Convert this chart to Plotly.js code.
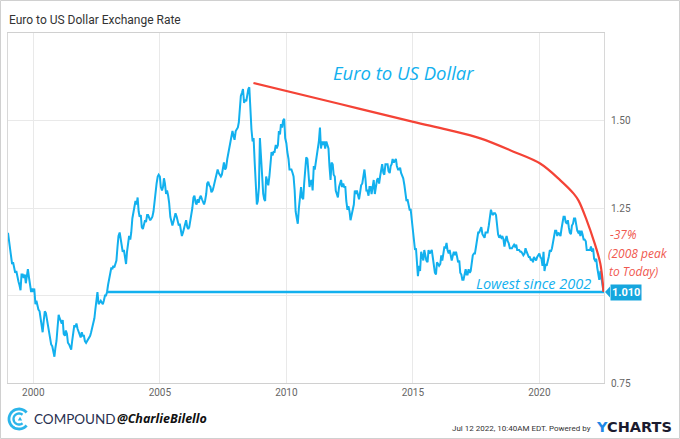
<!DOCTYPE html>
<html>
<head>
<meta charset="utf-8">
<script src="https://cdn.plot.ly/plotly-3.0.1.min.js"></script>
<style>
html,body{margin:0;padding:0;background:#fff;}
#chart{width:680px;height:439px;}
</style>
</head>
<body>
<div id="chart"></div>
<script>
// ---- DATA (semi-monthly EUR/USD readings, 1st & 15th of each month) ----
const startYear = 1999;
const eurusd = [
  // 1999
  1.179,1.160, 1.135,1.110, 1.090,1.095, 1.080,1.065, 1.070,1.050, 1.040,1.030, 1.015,1.060, 1.060,1.050, 1.060,1.035, 1.060,1.075, 1.050,1.035, 1.010,1.020,
  // 2000
  1.010,1.020, 0.975,0.985, 0.965,0.960, 0.955,0.930, 0.905,0.895, 0.930,0.955, 0.950,0.935, 0.920,0.905, 0.880,0.860, 0.855,0.845, 0.825,0.850, 0.870,0.905,
  // 2001
  0.945,0.935, 0.925,0.920, 0.930,0.890, 0.885,0.900, 0.890,0.865, 0.860,0.850, 0.845,0.870, 0.890,0.915, 0.910,0.920, 0.905,0.895, 0.890,0.880, 0.895,0.885,
  // 2002
  0.885,0.870, 0.865,0.870, 0.875,0.880, 0.885,0.895, 0.910,0.920, 0.935,0.960, 0.995,1.010, 0.975,0.980, 0.985,0.980, 0.975,0.985, 1.000,1.000, 1.010,1.030,
  // 2003
  1.050,1.065, 1.080,1.075, 1.085,1.080, 1.090,1.100, 1.140,1.170, 1.180,1.160, 1.140,1.125, 1.130,1.110, 1.090,1.125, 1.160,1.170, 1.160,1.180, 1.220,1.240,
  // 2004
  1.260,1.270, 1.260,1.280, 1.240,1.225, 1.230,1.195, 1.190,1.200, 1.215,1.210, 1.230,1.230, 1.220,1.215, 1.220,1.225, 1.240,1.270, 1.290,1.320, 1.340,1.345,
  // 2005
  1.340,1.310, 1.300,1.310, 1.335,1.320, 1.290,1.300, 1.285,1.265, 1.225,1.215, 1.200,1.210, 1.225,1.235, 1.225,1.215, 1.200,1.205, 1.180,1.170, 1.180,1.190,
  // 2006
  1.200,1.215, 1.195,1.190, 1.195,1.210, 1.225,1.250, 1.280,1.285, 1.265,1.260, 1.275,1.265, 1.280,1.285, 1.275,1.270, 1.260,1.270, 1.290,1.320, 1.325,1.315,
  // 2007
  1.310,1.295, 1.300,1.310, 1.320,1.335, 1.350,1.360, 1.350,1.345, 1.340,1.345, 1.365,1.380, 1.360,1.365, 1.390,1.405, 1.420,1.435, 1.450,1.470, 1.455,1.445,
  // 2008
  1.470,1.475, 1.480,1.495, 1.550,1.570, 1.580,1.590, 1.550,1.560, 1.555,1.575, 1.590,1.595, 1.520,1.475, 1.440,1.450, 1.380,1.310, 1.260,1.270, 1.310,1.450,
  // 2009
  1.390,1.320, 1.290,1.275, 1.270,1.340, 1.320,1.315, 1.340,1.380, 1.410,1.400, 1.410,1.410, 1.430,1.420, 1.430,1.470, 1.460,1.490, 1.480,1.500, 1.505,1.450,
  // 2010
  1.435,1.410, 1.390,1.360, 1.360,1.360, 1.350,1.340, 1.300,1.240, 1.220,1.205, 1.250,1.290, 1.310,1.280, 1.275,1.320, 1.380,1.395, 1.390,1.360, 1.310,1.325,
  // 2011
  1.330,1.300, 1.370,1.360, 1.380,1.400, 1.410,1.440, 1.480,1.420, 1.440,1.430, 1.440,1.420, 1.440,1.430, 1.420,1.370, 1.330,1.380, 1.375,1.345, 1.340,1.300,
  // 2012
  1.290,1.280, 1.310,1.320, 1.330,1.310, 1.320,1.310, 1.310,1.270, 1.245,1.255, 1.240,1.215, 1.230,1.240, 1.260,1.300, 1.290,1.300, 1.285,1.275, 1.295,1.315,
  // 2013
  1.320,1.335, 1.360,1.335, 1.300,1.300, 1.285,1.310, 1.310,1.290, 1.310,1.330, 1.290,1.315, 1.330,1.335, 1.320,1.340, 1.355,1.375, 1.350,1.345, 1.375,1.375,
  // 2014
  1.375,1.355, 1.350,1.370, 1.375,1.390, 1.380,1.385, 1.390,1.370, 1.360,1.360, 1.365,1.350, 1.340,1.335, 1.315,1.290, 1.270,1.275, 1.250,1.245, 1.245,1.215,
  // 2015
  1.200,1.160, 1.130,1.135, 1.085,1.055, 1.085,1.070, 1.125,1.115, 1.100,1.130, 1.110,1.100, 1.095,1.130, 1.120,1.125, 1.130,1.110, 1.075,1.065, 1.060,1.095,
  // 2016
  1.090,1.085, 1.090,1.115, 1.100,1.120, 1.140,1.135, 1.150,1.130, 1.120,1.130, 1.105,1.100, 1.115,1.125, 1.115,1.125, 1.110,1.095, 1.100,1.065, 1.060,1.045,
  // 2017
  1.045,1.065, 1.075,1.060, 1.060,1.075, 1.065,1.070, 1.090,1.115, 1.120,1.120, 1.140,1.160, 1.180,1.180, 1.190,1.195, 1.175,1.170, 1.165,1.180, 1.180,1.180,
  // 2018
  1.200,1.225, 1.245,1.235, 1.230,1.235, 1.235,1.230, 1.195,1.175, 1.165,1.170, 1.165,1.170, 1.160,1.140, 1.160,1.170, 1.155,1.150, 1.135,1.135, 1.135,1.140,
  // 2019
  1.145,1.140, 1.145,1.130, 1.130,1.130, 1.125,1.125, 1.120,1.115, 1.120,1.135, 1.125,1.120, 1.110,1.110, 1.100,1.105, 1.095,1.110, 1.105,1.100, 1.110,1.115,
  // 2020
  1.120,1.110, 1.105,1.085, 1.125,1.070, 1.090,1.085, 1.095,1.110, 1.130,1.125, 1.135,1.150, 1.180,1.185, 1.185,1.170, 1.180,1.175, 1.170,1.190, 1.210,1.225,
  // 2021
  1.225,1.210, 1.205,1.215, 1.195,1.180, 1.175,1.200, 1.205,1.220, 1.220,1.200, 1.185,1.180, 1.185,1.170, 1.185,1.175, 1.160,1.160, 1.155,1.130, 1.130,1.130,
  // 2022
  1.130,1.140, 1.125,1.135, 1.105,1.100, 1.105,1.080, 1.055,1.045, 1.070,1.050, 1.030,1.010
];

// red "peak to today" curve
const declineDates = ['2008-09-13','2012-02-15','2015-01-08','2016-05-08','2017-09-01','2018-12-24','2020-01-12','2020-10-30','2021-05-10','2021-07-20','2021-11-16','2022-02-24','2022-05-30','2022-07-15'];
const declineVals  = [1.607, 1.547, 1.496, 1.474, 1.449, 1.411, 1.377, 1.329, 1.291, 1.271, 1.214, 1.157, 1.091, 1.010];

// "lowest since 2002" level
const lowDates = ['2002-11-25','2022-07-22'];
const lowVals  = [1.010, 1.010];
const lastLabel = '1.010';

const yTickVals = [0.75, 1.00, 1.25, 1.50];
const yTickText = ['0.75', '', '1.25', '1.50'];
const xTickVals = ['2000-01-01','2005-01-01','2010-01-01','2015-01-01','2020-01-01'];
const xTickText = ['2000','2005','2010','2015','2020'];

// build dates (1st and 15th of each month)
const dates = [];
for (let i = 0; i < eurusd.length; i++) {
  const y = startYear + Math.floor(i / 24);
  const m = Math.floor((i % 24) / 2) + 1;
  const d = (i % 2 === 0) ? '01' : '15';
  dates.push(y + '-' + String(m).padStart(2, '0') + '-' + d);
}

const BLUE = '#12b0ee';
const RED = '#f44336';

const traces = [
  {x: dates, y: eurusd, type: 'scatter', mode: 'lines',
   line: {color: BLUE, width: 2}, hoverinfo: 'skip'},
  {x: lowDates, y: lowVals, type: 'scatter', mode: 'lines',
   line: {color: BLUE, width: 2.5}, hoverinfo: 'skip'},
  {x: declineDates, y: declineVals, type: 'scatter', mode: 'lines',
   line: {color: RED, width: 2.2, shape: 'spline', smoothing: 1}, hoverinfo: 'skip'}
];

// helpers for pixel-precise decorations
const L = 8, R = 76, T = 33, B = 56, W = 680, H = 439;
const pw = W - L - R, ph = H - T - B;
const px = v => (v - L) / pw;
const py = v => (H - B - v) / ph;

function arc(r, a0, a1, n) {
  let s = '';
  for (let i = 0; i <= n; i++) {
    const a = (a0 + (a1 - a0) * i / n) * Math.PI / 180;
    s += (i === 0 ? 'M ' : ' L ') + (r * Math.cos(a)).toFixed(2) + ',' + (r * Math.sin(a)).toFixed(2);
  }
  return s;
}

const shapes = [
  // outer frame
  {type: 'rect', xref: 'paper', yref: 'paper', x0: px(0.5), x1: px(679.5), y0: py(438.5), y1: py(0.5),
   line: {color: '#d0d0d0', width: 1}, fillcolor: 'rgba(0,0,0,0)', layer: 'below'},
  // notch of value label
  {type: 'path', xref: 'paper', yref: 'y', xsizemode: 'pixel', ysizemode: 'pixel',
   xanchor: 1, yanchor: 1.01, path: 'M 1,0 L 6,5.5 L 6,-5.5 Z',
   fillcolor: '#16a6de', line: {width: 0}},
  // compound logo rings
  {type: 'path', xref: 'paper', yref: 'paper', xsizemode: 'pixel', ysizemode: 'pixel',
   xanchor: px(19), yanchor: py(419), path: arc(10, 40, 320, 40),
   line: {color: '#2bb5ea', width: 2.8}},
  {type: 'path', xref: 'paper', yref: 'paper', xsizemode: 'pixel', ysizemode: 'pixel',
   xanchor: px(19), yanchor: py(419), path: arc(5.5, 50, 310, 30),
   line: {color: '#2bb5ea', width: 2.3}},
  {type: 'path', xref: 'paper', yref: 'paper', xsizemode: 'pixel', ysizemode: 'pixel',
   xanchor: px(20), yanchor: py(419), path: 'M -2.2,-1.6 L 2.2,-1.6 L 0,2.2 Z',
   fillcolor: '#2bb5ea', line: {width: 0}}
];

const redFont = {family: 'Open Sans, sans-serif', size: 12, color: '#f0584f'};
const footFont = {family: 'Roboto, sans-serif', size: 8, color: '#333'};
const annotations = [
  {xref: 'paper', yref: 'paper', x: px(7), y: py(20), xanchor: 'left', yanchor: 'middle',
   text: 'Euro to US Dollar Exchange Rate', showarrow: false,
   font: {family: 'Roboto, sans-serif', size: 12, color: '#333'}},
  {xref: 'paper', yref: 'paper', x: px(403), y: py(72), xanchor: 'center', yanchor: 'middle',
   text: '<i>Euro to US Dollar</i>', showarrow: false,
   font: {family: 'Open Sans, sans-serif', size: 18.5, color: BLUE}},
  {xref: 'paper', yref: 'paper', x: px(608), y: py(234), xanchor: 'left', yanchor: 'middle',
   text: '<i>-37%</i>', showarrow: false, font: redFont},
  {xref: 'paper', yref: 'paper', x: px(606), y: py(253), xanchor: 'left', yanchor: 'middle',
   text: '<i>(2008 peak</i>', showarrow: false, font: redFont},
  {xref: 'paper', yref: 'paper', x: px(607), y: py(271), xanchor: 'left', yanchor: 'middle',
   text: '<i>to Today)</i>', showarrow: false, font: redFont},
  {xref: 'paper', yref: 'paper', x: px(533), y: py(283), xanchor: 'center', yanchor: 'middle',
   text: '<i>Lowest since 2002</i>', showarrow: false,
   font: {family: 'Open Sans, sans-serif', size: 14.5, color: BLUE}},
  {xref: 'paper', yref: 'y', x: 1, y: 1.01, xanchor: 'left', yanchor: 'middle', xshift: 6,
   text: '<b>' + lastLabel + '</b>', showarrow: false, bgcolor: '#16a6de', borderpad: 1,
   font: {family: 'Roboto, sans-serif', size: 11, color: '#fff'}},
  {xref: 'paper', yref: 'paper', x: px(32), y: py(419), xanchor: 'left', yanchor: 'middle',
   text: 'COMPOUND', showarrow: false,
   font: {family: 'Lato, sans-serif', size: 13.5, color: '#28304f'}},
  {xref: 'paper', yref: 'paper', x: px(115), y: py(419), xanchor: 'left', yanchor: 'middle',
   text: '<b><i>@CharlieBilello</i></b>', showarrow: false,
   font: {family: 'Open Sans, sans-serif', size: 12.5, color: '#111'}},
  {xref: 'paper', yref: 'paper', x: px(549), y: py(428), xanchor: 'right', yanchor: 'middle',
   text: 'Jul 12 2022, 10:40AM EDT.', showarrow: false, font: footFont},
  {xref: 'paper', yref: 'paper', x: px(593), y: py(428), xanchor: 'right', yanchor: 'middle',
   text: 'Powered by', showarrow: false, font: footFont},
  {xref: 'paper', yref: 'paper', x: px(594), y: py(427), xanchor: 'left', yanchor: 'middle',
   text: '<b><span style="color:#1e88e5">Y</span>CHARTS</b>', showarrow: false,
   font: {family: 'DejaVu Sans, sans-serif', size: 14.5, color: '#1b1b2f'}}
];

const layout = {
  width: W, height: H,
  margin: {l: L, r: R, t: T, b: B},
  paper_bgcolor: '#fff', plot_bgcolor: '#fff',
  showlegend: false,
  font: {family: 'Roboto, sans-serif', color: '#666'},
  xaxis: {
    type: 'date', range: ['1999-01-01', '2022-07-22'],
    tickvals: xTickVals, ticktext: xTickText,
    showgrid: true, gridcolor: '#e9e9e9', gridwidth: 1,
    showline: true, linecolor: '#d0d0d0', mirror: true, linewidth: 1,
    ticks: '', tickfont: {size: 10, color: '#666'}, zeroline: false
  },
  yaxis: {
    range: [0.75, 1.75], side: 'right',
    tickvals: yTickVals, ticktext: yTickText,
    showgrid: true, gridcolor: '#e9e9e9', gridwidth: 1,
    showline: true, linecolor: '#d8d8d8', mirror: true, linewidth: 1,
    ticks: 'outside', ticklen: 4, tickcolor: 'rgba(0,0,0,0)',
    tickfont: {size: 10, color: '#666'}, zeroline: false
  },
  shapes: shapes,
  annotations: annotations
};

Plotly.newPlot('chart', traces, layout, {displayModeBar: false, staticPlot: true});
</script>
</body>
</html>
